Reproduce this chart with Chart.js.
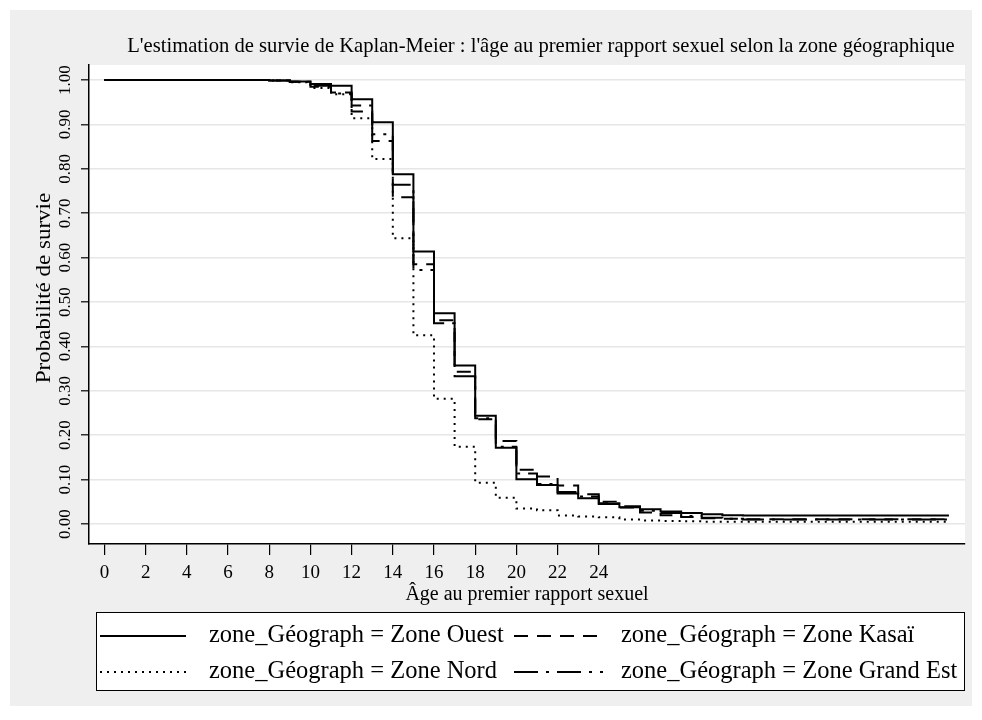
<!DOCTYPE html>
<html>
<head>
<meta charset="utf-8">
<title>Kaplan-Meier - zone géographique</title>
<script src="https://cdn.jsdelivr.net/npm/chart.js@4.4.1/dist/chart.umd.min.js"></script>
<style>
  html, body { margin: 0; padding: 0; background: #fff; }
</style>
</head>
<body>
<canvas id="chart" width="982" height="720"></canvas>
<script>
// âge (années) où chaque palier commence
const ages = [0, 1, 2, 3, 4, 5, 6, 7, 8, 9, 10, 11, 12, 13, 14, 15, 16, 17, 18, 19, 20,
  21, 22, 23, 24, 25, 26, 27, 28, 29, 30, 31, 32, 33, 34, 35, 36, 37, 38, 39, 40, 41];

// probabilité de survie par zone
const zoneOuest = [1, 1, 1, 1, 1, 1, 1, 1, 0.999, 0.997, 0.991, 0.987, 0.957, 0.905, 0.788,
  0.614, 0.475, 0.357, 0.244, 0.172, 0.101, 0.088, 0.069, 0.058, 0.045, 0.038, 0.033, 0.028,
  0.025, 0.022, 0.020, 0.019, 0.019, 0.019, 0.019, 0.019, 0.019, 0.019, 0.019, 0.019, 0.019, 0.019];
const zoneKasai = [1, 1, 1, 1, 1, 1, 1, 1, 0.999, 0.996, 0.985, 0.972, 0.929, 0.863, 0.736,
  0.585, 0.459, 0.343, 0.236, 0.187, 0.122, 0.107, 0.087, 0.067, 0.050, 0.037, 0.026, 0.020,
  0.016, 0.013, 0.012, 0.011, 0.011, 0.011, 0.011, 0.011, 0.011, 0.011, 0.011, 0.011, 0.011, 0.011];
const zoneNord = [1, 1, 1, 1, 1, 1, 1, 1, 0.999, 0.995, 0.982, 0.968, 0.914, 0.822, 0.644,
  0.425, 0.282, 0.174, 0.093, 0.059, 0.035, 0.031, 0.019, 0.017, 0.015, 0.010, 0.008, 0.007,
  0.006, 0.005, 0.005, 0.005, 0.005, 0.005, 0.005, 0.005, 0.005, 0.005, 0.005, 0.005, 0.005, 0.005];
const zoneGrandEst = [1, 1, 1, 1, 1, 1, 1, 1, 0.999, 0.996, 0.987, 0.970, 0.943, 0.878, 0.764,
  0.572, 0.452, 0.333, 0.238, 0.174, 0.114, 0.090, 0.072, 0.062, 0.047, 0.040, 0.030, 0.025,
  0.018, 0.014, 0.012, 0.010, 0.010, 0.010, 0.010, 0.010, 0.010, 0.010, 0.010, 0.010, 0.010, 0.010];

const seriesNames = [
  'zone_Géograph = Zone Ouest',
  'zone_Géograph = Zone Kasaï',
  'zone_Géograph = Zone Nord',
  'zone_Géograph = Zone Grand Est'
];
const xTicks = [0, 2, 4, 6, 8, 10, 12, 14, 16, 18, 20, 22, 24];
const yTicks = [0, 0.1, 0.2, 0.3, 0.4, 0.5, 0.6, 0.7, 0.8, 0.9, 1];

const chartTitle = "L'estimation de survie de Kaplan-Meier : l'âge au premier rapport sexuel selon la zone géographique";
const yTitle = 'Probabilité de survie';
const SERIF = "'Liberation Serif', 'Times New Roman', serif";

function toPoints(values) {
  return ages.map((a, i) => ({ x: a, y: values[i] }));
}

// fond gris, zone de tracé blanche, titres et légende encadrée
const stataFrame = {
  id: 'stataFrame',
  beforeDraw(chart) {
    const ctx = chart.ctx;
    const a = chart.chartArea;
    ctx.save();
    ctx.fillStyle = '#ffffff';
    ctx.fillRect(0, 0, chart.width, chart.height);
    ctx.fillStyle = '#efefef';
    ctx.fillRect(10, 10, 962, 696);
    ctx.fillStyle = '#ffffff';
    ctx.fillRect(a.left, a.top, a.right - a.left, a.bottom - a.top);
    ctx.restore();
  },
  afterDraw(chart) {
    const ctx = chart.ctx;
    ctx.save();
    ctx.fillStyle = '#000';
    ctx.font = '20.6px ' + SERIF;
    ctx.textAlign = 'center';
    ctx.textBaseline = 'middle';
    ctx.fillText(chartTitle, 541, 47);

    // titre vertical, un peu étiré dans le sens du texte
    ctx.save();
    ctx.translate(45, 288);
    ctx.rotate(-Math.PI / 2);
    ctx.scale(1.15, 1);
    ctx.font = '20px ' + SERIF;
    ctx.fillText(yTitle, 0, 0);
    ctx.restore();

    // légende
    ctx.fillStyle = '#fff';
    ctx.fillRect(96.5, 612.5, 868, 78);
    ctx.strokeStyle = '#000';
    ctx.lineWidth = 1;
    ctx.strokeRect(96.5, 612.5, 868, 78);

    const colX = [[100, 186, 209], [514, 603, 621]];
    const rowY = [636, 672];
    chart.data.datasets.forEach((ds, i) => {
      const c = colX[i % 2];
      const y = rowY[Math.floor(i / 2)];
      ctx.beginPath();
      ctx.setLineDash(ds.borderDash || []);
      ctx.lineWidth = 2;
      ctx.strokeStyle = '#000';
      ctx.moveTo(c[0], y);
      ctx.lineTo(c[1], y);
      ctx.stroke();
      ctx.setLineDash([]);
      ctx.fillStyle = '#000';
      ctx.font = '24.5px ' + SERIF;
      ctx.textAlign = 'left';
      ctx.textBaseline = 'middle';
      ctx.fillText(ds.label, c[2], y);
    });
    ctx.restore();
  }
};

const ctx = document.getElementById('chart').getContext('2d');
new Chart(ctx, {
  type: 'line',
  data: {
    datasets: [
      { label: seriesNames[0], data: toPoints(zoneOuest), borderDash: [] },
      { label: seriesNames[1], data: toPoints(zoneKasai), borderDash: [14, 9] },
      { label: seriesNames[2], data: toPoints(zoneNord), borderDash: [2, 5] },
      { label: seriesNames[3], data: toPoints(zoneGrandEst), borderDash: [24, 8, 3, 8] }
    ].map(ds => Object.assign(ds, {
      stepped: true,
      borderColor: '#000',
      borderWidth: 2,
      pointRadius: 0,
      fill: false
    }))
  },
  options: {
    responsive: false,
    animation: false,
    layout: { padding: { left: 10, right: 17, top: 65, bottom: 113 } },
    plugins: {
      legend: { display: false },
      title: { display: false },
      tooltip: { enabled: false }
    },
    scales: {
      x: {
        type: 'linear',
        min: -0.75,
        max: 41.78,
        afterBuildTicks: s => { s.ticks = xTicks.map(v => ({ value: v })); },
        afterFit: s => { s.height = 63; },
        grid: { drawOnChartArea: false, color: '#000', tickColor: '#000', tickLength: 11, lineWidth: 1.2 },
        border: { color: '#000', width: 1.5 },
        ticks: { color: '#000', font: { family: SERIF, size: 19 }, padding: 7, maxRotation: 0 },
        title: {
          display: true,
          text: 'Âge au premier rapport sexuel',
          color: '#000',
          font: { family: SERIF, size: 20 },
          padding: { top: 0, bottom: 0 }
        }
      },
      y: {
        min: -0.045,
        max: 1.034,
        afterBuildTicks: s => { s.ticks = yTicks.map(v => ({ value: v })); },
        afterFit: s => { s.width = 79; },
        grid: { color: '#e6e6e6', lineWidth: 1.6, tickColor: '#000', tickLength: 8, tickWidth: 1.2 },
        border: { color: '#000', width: 1.5 },
        ticks: {
          color: '#000',
          font: { family: SERIF, size: 17 },
          padding: 1,
          minRotation: 90,
          maxRotation: 90,
          crossAlign: 'center',
          callback: v => v.toFixed(2)
        }
      }
    }
  },
  plugins: [stataFrame]
});
</script>
</body>
</html>
